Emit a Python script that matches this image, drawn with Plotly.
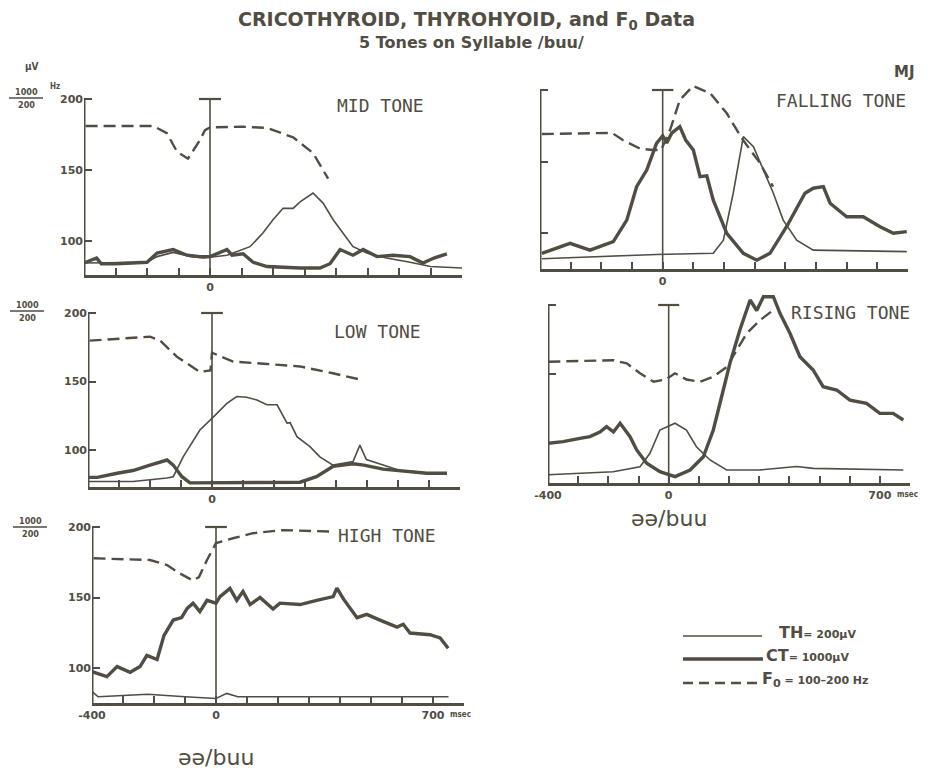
import plotly.graph_objects as go

INK = "#514d43"
W, H = 946, 770

# ---------------- data (ms vs. scaled units; F0 in Hz, 100-200) ----------------
mid_f0_ms = [-395, -180, -137, -105, -70, -32, -16, 0, 100, 181, 264, 327, 375]
mid_f0 = [181, 181, 176, 163, 158, 171, 178, 180, 180.5, 179.6, 173, 162, 144]
mid_ct_ms = [-400, -360, -345, -300, -200, -168, -117, -73, -32, 0, 54, 70, 105, 137, 181,
             286, 349, 381, 413, 454, 486, 530, 581, 635, 676, 711, 752]
mid_ct = [84.5, 88, 84, 84, 85, 91.5, 94, 90, 89, 89, 94, 90, 91, 85, 82,
          81, 81, 84, 94, 90, 94, 89, 90, 89, 84.5, 88, 91]
mid_th_ms = [-400, -200, -168, -117, -60, -20, 54, 127, 168, 200, 232, 264, 286, 327,
             359, 391, 422, 454, 498, 560, 635, 700, 800]
mid_th = [84.5, 85, 89, 92, 89, 88, 90, 96, 105.6, 115, 123, 123, 127.5, 133.8,
          126.7, 115, 105.6, 96, 91.5, 88, 85, 82, 81]

low_f0_ms = [-395, -200, -168, -113, -39, -5, 0, 68, 177, 284, 390, 471]
low_f0 = [179.8, 182.7, 180, 168, 157, 158, 171, 164.5, 162.8, 161, 156, 151.8]
low_ct_ms = [-400, -370, -306, -255, -200, -145, -125, -97, -71, 100, 284, 337, 390,
             455, 490, 552, 600, 693, 758]
low_ct = [80, 80, 83, 85, 89, 92.7, 89, 80.5, 76, 76, 76.5, 80.5, 88,
          90, 89, 86, 85, 83, 83]
low_th_ms = [-400, -255, -145, -125, -93, -39, 4, 48, 80, 112, 145, 177, 210, 242, 252,
             274, 316, 348, 390, 455, 477, 498, 552, 606, 660, 693]
low_th = [77, 77, 79.6, 80.5, 95, 114.6, 124, 134, 139, 138.5, 136.5, 133, 133, 119.7, 120,
          109.7, 102.5, 95, 89, 91.6, 103.6, 93, 89, 85, 84, 83]

high_f0_ms = [-395, -213, -158, -116, -74, -55, -29, -19, 0, 55, 119, 216, 300, 377]
high_f0 = [177.8, 176.6, 173, 167, 162, 164.5, 176.6, 181, 188.6, 192, 195.6, 197.8, 197.5, 196.7]
high_ct_ms = [-400, -352, -319, -277, -245, -223, -190, -168, -138, -111, -93, -74, -52, -29,
              0, 13, 45, 67, 87, 110, 142, 184, 206, 271, 325, 378, 390, 411, 455, 486,
              529, 584, 604, 626, 690, 723, 749]
high_ct = [97.4, 93.9, 101, 97, 101, 109, 106, 123, 134, 135.7, 142.3, 146, 140, 148,
           146, 150.6, 156.5, 148, 154.3, 145, 150, 141.8, 146, 145, 148, 150.6, 156.7, 149, 135.7, 138,
           134, 129, 131, 124.8, 123.6, 121.3, 114]
high_th_ms = [-400, -380, -300, -220, -100, 0, 35, 70, 200, 400, 600, 750]
high_th = [83.2, 79.6, 80.5, 81.4, 79.6, 78.4, 82, 79.6, 79.6, 79.6, 79.6, 79.6]

fall_f0_ms = [-394, -165, -130, -74, -31, -5, 24, 56, 99, 155, 209, 262, 317, 360]
fall_f0 = [169.2, 170, 165, 159, 158, 158, 172, 193, 202.8, 197.7, 183.7, 165, 149, 132.4]
fall_ct_ms = [-394, -302, -237, -161, -117, -85, -52, -20, 0, 13, 30, 56, 75, 100, 122, 144,
              165, 209, 263, 307, 350, 404, 464, 491, 524, 546, 600, 654, 709, 752, 796]
fall_ct = [85.8, 92.8, 88, 94, 109, 132.4, 144, 162.7, 168, 163, 170, 174.4, 165, 158, 139.4, 140,
           123, 99.8, 85.8, 81, 85.8, 104.4, 127.8, 131.3, 132.4, 120.8, 111.4, 111.4, 104.4, 99.8, 101]
fall_th_ms = [-394, -150, -20, 165, 198, 230, 263, 296, 328, 361, 393, 437, 491, 796]
fall_th = [82, 84, 85, 85.8, 95, 127.8, 167.4, 160.4, 144, 127.8, 109, 95, 88, 87]

rise_f0_ms = [-399, -184, -139, -95, -50, -10, 21, 59, 104, 148, 192, 225, 259, 303, 347]
rise_f0 = [158.9, 160, 157.7, 150.5, 144.4, 146, 150.5, 146, 144.4, 148, 155, 167.4, 179.5, 189, 196.4]
rise_ct_ms = [-399, -350, -294, -261, -228, -206, -183, -161, -128, -106, -73, -29, 21, 71,
              115, 148, 181, 203, 236, 270, 292, 314, 347, 369, 402, 435, 479, 512, 557,
              601, 656, 700, 744, 778]
rise_ct = [99.8, 101, 103.4, 104.6, 108, 111.8, 108, 114.3, 104.6, 95, 85.3, 79.2, 75.6, 80.4,
           90, 109.4, 138.4, 157.7, 181.9, 203.6, 196, 206, 206, 194, 179.5, 162.5, 152.9, 140.8, 138.4,
           131, 128.7, 121.5, 121.5, 116.7]
rise_th_ms = [-399, -184, -95, -62, -29, 21, 59, 92, 137, 192, 300, 424, 479, 778]
rise_th = [77, 79.2, 82.8, 92.5, 109.4, 114.3, 109.4, 97.3, 87.7, 80.4, 80.4, 83, 81.6, 80.4]

x_ticks = list(range(-400, 801, 100))
y_ticks = [100, 150, 200]
y_ticktext = ["100", "150", "200"]

# ---------------- panel geometry (pixels) ----------------
panels = [
    dict(label="MID TONE", left=84, right=462, top=99, bottom=275, s=1.42, ylab=True, full_x=False,
         lab=(380, 106), frac=(26, 98), xlab_dy=None,
         data=(mid_f0_ms, mid_f0, mid_ct_ms, mid_ct, mid_th_ms, mid_th)),
    dict(label="LOW TONE", left=88, right=460, top=313, bottom=487, s=1.37, ylab=True, full_x=False,
         lab=(377, 332), frac=(27, 311), xlab_dy=None,
         data=(low_f0_ms, low_f0, low_ct_ms, low_ct, low_th_ms, low_th)),
    dict(label="HIGH TONE", left=92, right=464, top=527, bottom=703, s=1.41, ylab=True, full_x=True,
         lab=(387, 535), frac=(30, 527), xlab_dy=54,
         data=(high_f0_ms, high_f0, high_ct_ms, high_ct, high_th_ms, high_th)),
    dict(label="FALLING TONE", left=540, right=908, top=90, bottom=269, s=1.43, ylab=False, full_x=False,
         lab=(841, 100), frac=None, xlab_dy=None,
         data=(fall_f0_ms, fall_f0, fall_ct_ms, fall_ct, fall_th_ms, fall_th)),
    dict(label="RISING TONE", left=548, right=910, top=305, bottom=483, s=1.38, ylab=False, full_x=True,
         lab=(850, 312), frac=None, xlab_dy=35,
         data=(rise_f0_ms, rise_f0, rise_ct_ms, rise_ct, rise_th_ms, rise_th)),
]


def px(x):
    return x / W


def py(y):
    return 1 - y / H


fig = go.Figure()
shapes = []
annotations = []
tickfont = dict(family="DejaVu Sans", size=11, color=INK, weight="bold")
labfont = dict(family="DejaVu Sans Mono", size=18, color=INK)

for i, p in enumerate(panels, start=1):
    sfx = "" if i == 1 else str(i)
    xr, yr = "x" + sfx, "y" + sfx
    ymin = 200 - (p["bottom"] - p["top"]) / p["s"]
    ymax = 200 + 15 / p["s"]
    f0_ms, f0, ct_ms, ct, th_ms, th = p["data"]
    fig.add_trace(go.Scatter(x=th_ms, y=th, mode="lines", xaxis=xr, yaxis=yr,
                             line=dict(color=INK, width=1.6), showlegend=False, hoverinfo="skip"))
    fig.add_trace(go.Scatter(x=ct_ms, y=ct, mode="lines", xaxis=xr, yaxis=yr,
                             line=dict(color=INK, width=3.4), showlegend=False, hoverinfo="skip"))
    fig.add_trace(go.Scatter(x=f0_ms, y=f0, mode="lines", xaxis=xr, yaxis=yr,
                             line=dict(color=INK, width=2.4, dash="12px,6px"),
                             showlegend=False, hoverinfo="skip"))
    if p["full_x"]:
        ttext = ["-400" if v == -400 else "0" if v == 0 else "700" if v == 700 else "" for v in x_ticks]
    else:
        ttext = ["0" if v == 0 else "" for v in x_ticks]
    fig.update_layout(**{
        "xaxis" + sfx: dict(domain=[px(p["left"]), px(p["right"])], range=[-400, 800], anchor=yr,
                            tickvals=x_ticks, ticktext=ttext, ticks="inside", ticklen=7, tickwidth=2,
                            tickcolor=INK, showline=True, linewidth=3, linecolor=INK, automargin=False,
                            showgrid=False, zeroline=False, tickfont=tickfont, fixedrange=True),
        "yaxis" + sfx: dict(domain=[py(p["bottom"]), py(p["top"] - 15)], range=[ymin, ymax], anchor=xr,
                            tickvals=y_ticks, ticktext=y_ticktext, ticks="inside", ticklen=8, tickwidth=2,
                            tickcolor=INK, showticklabels=p["ylab"], showline=False, automargin=False,
                            showgrid=False, zeroline=False, tickfont=tickfont, fixedrange=True),
    })
    # vertical axis (stops at 200) and line-up point at 0 with cap
    shapes.append(dict(type="line", xref=xr, yref=yr, x0=-400, x1=-400, y0=ymin, y1=200,
                       line=dict(color=INK, width=3)))
    shapes.append(dict(type="line", xref=xr, yref=yr, x0=0, x1=0, y0=ymin, y1=200,
                       line=dict(color=INK, width=1.6)))
    shapes.append(dict(type="line", xref=xr, yref=yr, x0=-35, x1=35, y0=200, y1=200,
                       line=dict(color=INK, width=2.2)))
    annotations.append(dict(text=p["label"], x=px(p["lab"][0]), y=py(p["lab"][1]), xref="paper",
                            yref="paper", showarrow=False, font=labfont, xanchor="center", yanchor="middle"))
    if p["full_x"]:
        annotations.append(dict(text="msec", xref=xr, yref=yr, x=700, y=ymin, xshift=15, yshift=-5,
                                xanchor="left", yanchor="top", showarrow=False,
                                font=dict(family="DejaVu Sans Condensed", size=8, color=INK, weight="bold")))
        annotations.append(dict(text="əə/buu", xref=xr, yref="paper", x=0, y=py(p["bottom"] + p["xlab_dy"]),
                                showarrow=False, xanchor="center", yanchor="middle",
                                font=dict(family="DejaVu Sans", size=22, color=INK)))
    if p["frac"]:
        fx, fy = p["frac"]
        ff = dict(family="DejaVu Sans Condensed", size=9, color=INK, weight="bold")
        annotations.append(dict(text="1000", x=px(fx), y=py(fy - 6), xref="paper", yref="paper",
                                showarrow=False, font=ff, xanchor="center", yanchor="middle"))
        annotations.append(dict(text="200", x=px(fx), y=py(fy + 7), xref="paper", yref="paper",
                                showarrow=False, font=ff, xanchor="center", yanchor="middle"))
        shapes.append(dict(type="line", xref="paper", yref="paper", x0=px(fx - 17), x1=px(fx + 17),
                           y0=py(fy), y1=py(fy), line=dict(color=INK, width=1.5)))

# header texts
annotations += [
    dict(text="CRICOTHYROID, THYROHYOID, and F<sub>0</sub> Data", x=px(466), y=py(20), xref="paper",
         yref="paper", showarrow=False, xanchor="center", yanchor="middle",
         font=dict(family="DejaVu Sans", size=19, color=INK, weight="bold")),
    dict(text="5 Tones on Syllable /buu/", x=px(471), y=py(43), xref="paper", yref="paper",
         showarrow=False, xanchor="center", yanchor="middle",
         font=dict(family="DejaVu Sans", size=16, color=INK, weight="bold")),
    dict(text="MJ", x=px(904), y=py(72), xref="paper", yref="paper", showarrow=False,
         font=dict(family="DejaVu Sans", size=15, color=INK, weight="bold"), xanchor="center", yanchor="middle"),
    dict(text="μV", x=px(32), y=py(67), xref="paper", yref="paper", showarrow=False,
         xanchor="center", yanchor="middle",
         font=dict(family="DejaVu Sans Condensed", size=10, color=INK, weight="bold")),
    dict(text="Hz", x=px(55), y=py(86), xref="paper", yref="paper", showarrow=False,
         xanchor="center", yanchor="middle",
         font=dict(family="DejaVu Sans Condensed", size=8, color=INK, weight="bold")),
]

# key
key_rows = [
    ("TH", "= 200μV", 632, 1.6, None, 683, 762, 777),
    ("CT", "= 1000μV", 655, 3.4, None, 683, 763, 764),
    ("F<sub>0</sub>", " = 100–200 Hz", 679, 2.4, "10px,6px", 683, 757, 760),
]
for big, small, yy, lw, dash, x0, x1, tx in key_rows:
    shapes.append(dict(type="line", xref="paper", yref="paper", x0=px(x0), x1=px(x1),
                       y0=py(yy + 4), y1=py(yy + 4), line=dict(color=INK, width=lw, dash=dash)))
    annotations.append(dict(text=big + "<span style='font-size:11px'>" + small + "</span>",
                            x=px(tx), y=py(yy), xref="paper", yref="paper", showarrow=False,
                            xanchor="left", yanchor="middle",
                            font=dict(family="DejaVu Sans", size=16, color=INK, weight="bold")))

fig.update_layout(width=W, height=H, margin=dict(l=0, r=0, t=0, b=0),
                  paper_bgcolor="white", plot_bgcolor="white",
                  shapes=shapes, annotations=annotations, showlegend=False)

fig.write_html("out.html", config={"displayModeBar": False})
